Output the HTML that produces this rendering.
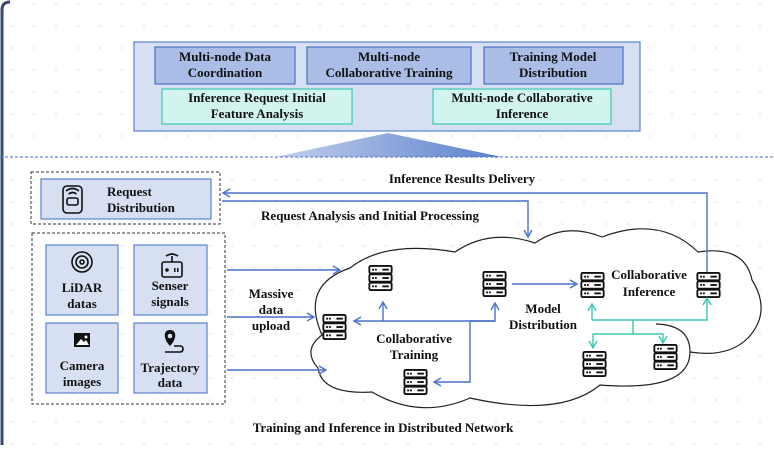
<!DOCTYPE html>
<html><head><meta charset="utf-8"><style>
body{margin:0;width:774px;height:445px;overflow:hidden;background:#fff;font-family:"Liberation Serif",serif;}
svg text{font-family:"Liberation Serif",serif;font-weight:bold;fill:#111;}
</style></head><body>
<svg width="774" height="445" viewBox="0 0 774 445" xmlns="http://www.w3.org/2000/svg">
<defs>
<pattern id="dots" width="22" height="22" patternUnits="userSpaceOnUse"><circle cx="12" cy="4" r="0.9" fill="#d8dce4"/></pattern>
<linearGradient id="tri" x1="0" x2="1"><stop offset="0" stop-color="#c3d0ec"/><stop offset="1" stop-color="#5a80cc"/></linearGradient>
<marker id="ab" markerWidth="10" markerHeight="10" refX="8" refY="5" orient="auto" markerUnits="userSpaceOnUse"><path d="M1,1 L8,5 L1,9" fill="none" stroke="#4a72c8" stroke-width="1.4"/></marker>
<marker id="at" markerWidth="10" markerHeight="10" refX="8" refY="5" orient="auto" markerUnits="userSpaceOnUse"><path d="M1,1 L8,5 L1,9" fill="none" stroke="#3cc8b4" stroke-width="1.4"/></marker>
<symbol id="srv" viewBox="0 0 26 28">
<g fill="#fff" stroke="#111" stroke-width="2"><rect x="1" y="1" width="24" height="8" rx="1.5"/><rect x="1" y="10" width="24" height="8" rx="1.5"/><rect x="1" y="19" width="24" height="8" rx="1.5"/></g>
<g fill="#111"><rect x="4" y="4" width="2" height="2"/><rect x="7" y="4" width="2" height="2"/><rect x="15" y="4" width="7" height="2"/><rect x="4" y="13" width="2" height="2"/><rect x="7" y="13" width="2" height="2"/><rect x="15" y="13" width="7" height="2"/><rect x="4" y="22" width="2" height="2"/><rect x="7" y="22" width="2" height="2"/><rect x="15" y="22" width="7" height="2"/></g>
</symbol>
</defs>
<rect width="774" height="445" fill="url(#dots)"/>
<path d="M2,445 V10 Q2,2 10,2" fill="none" stroke="#3a4a6a" stroke-width="3"/>
<rect x="134" y="42" width="506" height="89" fill="#d6e0f2" stroke="#5b82d2" stroke-width="1.2"/>
<g stroke="#4a70c4" stroke-width="1.2" fill="#a9bde6">
<rect x="155" y="47" width="140" height="37"/><rect x="307" y="47" width="164" height="37"/><rect x="484" y="47" width="139" height="37"/></g>
<g stroke="#3cc8b4" stroke-width="1.2" fill="#d2f4ee">
<rect x="162" y="89" width="190" height="35"/><rect x="433" y="89" width="178" height="35"/></g>
<g font-size="13" text-anchor="middle">
<text x="225" y="61">Multi-node Data</text><text x="225" y="77">Coordination</text>
<text x="389" y="61">Multi-node</text><text x="389" y="77">Collaborative Training</text>
<text x="553" y="61">Training Model</text><text x="553" y="77">Distribution</text>
<text x="257" y="102">Inference Request Initial</text><text x="257" y="118">Feature Analysis</text>
<text x="522" y="102">Multi-node Collaborative</text><text x="522" y="118">Inference</text>
</g>
<path d="M275,157 L388,133 L502,157 Z" fill="url(#tri)"/>
<line x1="0" y1="157" x2="774" y2="157" stroke="#4a72c8" stroke-dasharray="3,2" stroke-width="1"/>
<rect x="31" y="172" width="189" height="52" fill="none" stroke="#333" stroke-dasharray="3,2"/>
<rect x="41" y="179" width="170" height="40" fill="#d6e0f2" stroke="#5b82d2" stroke-width="1.2"/>
<g fill="none" stroke="#111" stroke-width="1.6"><rect x="63" y="186" width="19" height="27" rx="4"/><rect x="67" y="198" width="11" height="7" rx="2"/><path d="M66,191 Q72.5,186 79,191 M68.5,194 Q72.5,191 76.5,194"/></g>
<text x="107" y="196" font-size="13">Request</text><text x="107" y="212" font-size="13">Distribution</text>
<rect x="32" y="233" width="193" height="171" fill="none" stroke="#333" stroke-dasharray="3,2"/>
<g fill="#d6e0f2" stroke="#5b82d2" stroke-width="1.2">
<rect x="46" y="245" width="72" height="70"/><rect x="134" y="245" width="73" height="70"/>
<rect x="46" y="323" width="72" height="70"/><rect x="134" y="323" width="73" height="70"/></g>
<g fill="none" stroke="#111" stroke-width="1.6"><circle cx="82" cy="262" r="10"/><circle cx="82" cy="262" r="6"/><circle cx="82" cy="262" r="2"/>
<rect x="162" y="262" width="20" height="15" rx="2"/><path d="M166,256 Q172,252 178,256"/><line x1="172" y1="256" x2="172" y2="262"/>
<path d="M165,352 H180 Q183,352 183,349 Q183,346 180,346 H174"/></g>
<circle cx="167" cy="270" r="1.8" fill="#111"/><rect x="174" y="268" width="1.5" height="4" fill="#111"/><rect x="177" y="268" width="1.5" height="4" fill="#111"/>
<rect x="74" y="333" width="16" height="14" fill="#111"/><path d="M76,345 L81,339 L84,342 L86,340 L89,345Z" fill="#fff"/><circle cx="86" cy="337" r="1.5" fill="#fff"/>
<path d="M170,346 C163,339 163,330 170,330 C177,330 177,339 170,346Z" fill="#111"/><circle cx="170" cy="336" r="2.3" fill="#d6e0f2"/>
<g font-size="13" text-anchor="middle">
<text x="82" y="292">LiDAR</text><text x="82" y="308">datas</text>
<text x="170" y="290">Senser</text><text x="170" y="306">signals</text>
<text x="82" y="370">Camera</text><text x="82" y="386">images</text>
<text x="170" y="372">Trajectory</text><text x="170" y="387">data</text>
<text x="271" y="298">Massive</text><text x="271" y="314">data</text><text x="271" y="330">upload</text>
<text x="462" y="183">Inference Results Delivery</text>
<text x="370" y="220">Request Analysis and Initial Processing</text>
<text x="383" y="432">Training and Inference in Distributed Network</text>
</g>
<path d="M322,335 Q300,285 350,268 Q385,240 455,252 Q490,228 535,243 Q565,222 602,237 Q660,215 698,252 Q745,245 752,280 Q772,312 748,338 Q728,358 690,352 Q690,392 600,385 Q560,418 470,398 Q420,420 372,392 Q322,395 318,368 Q302,350 322,335 Z" fill="#fff" stroke="#222" stroke-width="1.2"/>
<path d="M656,324 Q690,325 690,352" fill="none" stroke="#222" stroke-width="1.2"/>
<g font-size="13" text-anchor="middle">
<text x="414" y="343">Collaborative</text><text x="414" y="359">Training</text>
<text x="543" y="313">Model</text><text x="543" y="329">Distribution</text>
<text x="649" y="279">Collaborative</text><text x="649" y="296">Inference</text>
</g>
<use href="#srv" x="368" y="265" width="25" height="26"/>
<use href="#srv" x="482" y="271" width="25" height="26"/>
<use href="#srv" x="322" y="314" width="25" height="26"/>
<use href="#srv" x="403" y="369" width="25" height="26"/>
<use href="#srv" x="580" y="272" width="25" height="26"/>
<use href="#srv" x="696" y="272" width="25" height="26"/>
<use href="#srv" x="582" y="351" width="25" height="26"/>
<use href="#srv" x="653" y="344" width="25" height="26"/>
<g fill="none" stroke="#4a72c8" stroke-width="1.4">
<path d="M707,272 V193 H223" marker-end="url(#ab)"/>
<path d="M222,201 H528 V237" marker-end="url(#ab)"/>
<path d="M227,270 H340" marker-end="url(#ab)"/>
<path d="M227,317 H314" marker-end="url(#ab)"/>
<path d="M227,370 H326" marker-end="url(#ab)"/>
<path d="M495,321 H354" marker-end="url(#ab)"/>
<path d="M383,321 V302" marker-end="url(#ab)"/>
<path d="M470,321 H495 V303" marker-end="url(#ab)"/>
<path d="M470,321 V382 H434" marker-end="url(#ab)"/>
<path d="M512,284 H577" marker-end="url(#ab)"/>
</g>
<g fill="none" stroke="#3cc8b4" stroke-width="1.4">
<path d="M592,320 V304" marker-end="url(#at)"/>
<path d="M592,320 H707 V298" marker-end="url(#at)"/>
<path d="M633,320 V334 H593 V348" marker-end="url(#at)"/>
<path d="M633,334 H663 V343" marker-end="url(#at)"/>
</g>
</svg>
</body></html>
